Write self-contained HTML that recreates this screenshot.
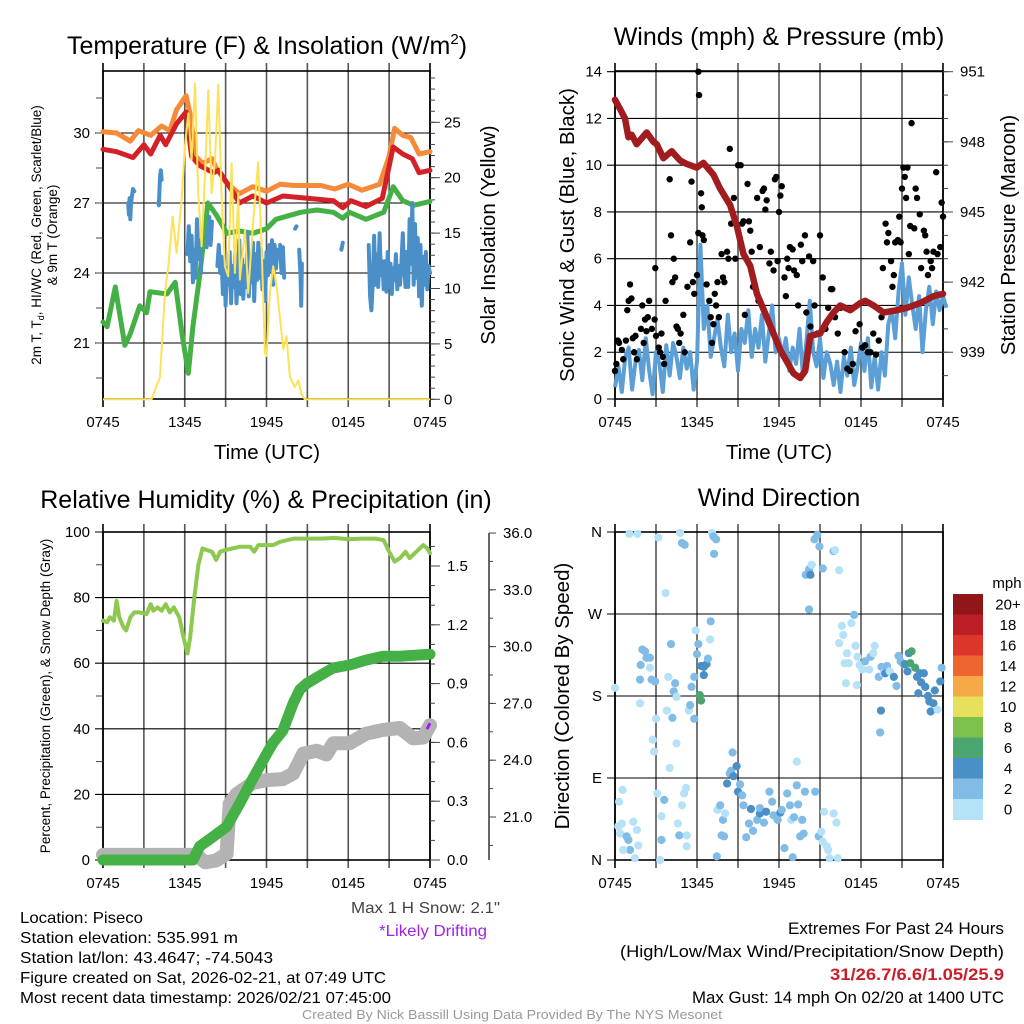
<!DOCTYPE html>
<html><head><meta charset="utf-8"><style>
html,body{margin:0;padding:0;background:#fff;}
svg{display:block;font-family:"Liberation Sans",Arial,sans-serif;}
</style></head><body>
<svg id="chart" width="1024" height="1024" viewBox="0 0 1024 1024" xmlns="http://www.w3.org/2000/svg">
<rect x="0" y="0" width="1024" height="1024" fill="#fff"/>
<!-- titles -->
<text x="267" y="54" font-size="25" text-anchor="middle">Temperature (F) &amp; Insolation (W/m<tspan dy="-10" font-size="15">2</tspan><tspan dy="10">)</tspan></text>
<text x="779" y="45" font-size="25" text-anchor="middle">Winds (mph) &amp; Pressure (mb)</text>
<text x="266" y="508" font-size="25" text-anchor="middle">Relative Humidity (%) &amp; Precipitation (in)</text>
<text x="779" y="506" font-size="25" text-anchor="middle">Wind Direction</text>
<!-- axis titles -->
<text transform="translate(41,235) rotate(-90)" font-size="13.5" text-anchor="middle">2m T, T<tspan font-size="9" dy="3">d</tspan><tspan dy="-3">, HI/WC (Red, Green, Scarlet/Blue)</tspan></text>
<text transform="translate(57,235) rotate(-90)" font-size="13.5" text-anchor="middle">&amp; 9m T (Orange)</text>
<text transform="translate(495,235) rotate(-90)" font-size="20.5" text-anchor="middle">Solar Insolation (Yellow)</text>
<text x="267" y="459" font-size="20.5" text-anchor="middle">Time (UTC)</text>
<text transform="translate(574,235) rotate(-90)" font-size="20.5" text-anchor="middle">Sonic Wind &amp; Gust (Blue, Black)</text>
<text transform="translate(1015,235) rotate(-90)" font-size="20.5" text-anchor="middle">Station Pressure (Maroon)</text>
<text x="779" y="459" font-size="20.5" text-anchor="middle">Time (UTC)</text>
<text transform="translate(50,696) rotate(-90)" font-size="13.5" text-anchor="middle">Percent, Precipitation (Green), &amp; Snow Depth (Gray)</text>
<text transform="translate(569,696) rotate(-90)" font-size="20.5" text-anchor="middle">Direction (Colored By Speed)</text>
<!-- footer text -->
<text x="500" y="913" font-size="16" fill="#444" text-anchor="end" textLength="149" lengthAdjust="spacingAndGlyphs">Max 1 H Snow: 2.1"</text>
<text x="487" y="936" font-size="16" fill="#a020f0" text-anchor="end" textLength="108" lengthAdjust="spacingAndGlyphs">*Likely Drifting</text>
<text x="20" y="923" font-size="16" textLength="123" lengthAdjust="spacingAndGlyphs">Location: Piseco</text>
<text x="20" y="943" font-size="16" textLength="218" lengthAdjust="spacingAndGlyphs">Station elevation: 535.991 m</text>
<text x="20" y="963" font-size="16" textLength="253" lengthAdjust="spacingAndGlyphs">Station lat/lon: 43.4647; -74.5043</text>
<text x="20" y="983" font-size="16" textLength="366" lengthAdjust="spacingAndGlyphs">Figure created on Sat, 2026-02-21, at 07:49 UTC</text>
<text x="20" y="1003" font-size="16" textLength="371" lengthAdjust="spacingAndGlyphs">Most recent data timestamp: 2026/02/21 07:45:00</text>
<text x="1004" y="934" font-size="17" text-anchor="end" textLength="216" lengthAdjust="spacingAndGlyphs">Extremes For Past 24 Hours</text>
<text x="1004" y="957" font-size="17" text-anchor="end" textLength="384" lengthAdjust="spacingAndGlyphs">(High/Low/Max Wind/Precipitation/Snow Depth)</text>
<text x="1004" y="980" font-size="17" font-weight="bold" fill="#c8202a" text-anchor="end" textLength="174" lengthAdjust="spacingAndGlyphs">31/26.7/6.6/1.05/25.9</text>
<text x="1004" y="1003" font-size="17" text-anchor="end" textLength="312" lengthAdjust="spacingAndGlyphs">Max Gust: 14 mph On 02/20 at 1400 UTC</text>
<text x="512" y="1019" font-size="13" fill="#999" text-anchor="middle" textLength="420" lengthAdjust="spacingAndGlyphs">Created By Nick Bassill Using Data Provided By The NYS Mesonet</text>
</svg>
<script>
// ---------- DATA ----------
const xTickLabels=["0745","1345","1945","0145","0745"];
const xTickHours=[0,6,12,18,24];
const tempTicks=[21,24,27,30];
const solarTicks=[0,5,10,15,20,25];
const windTicks=[0,2,4,6,8,10,12,14];
const pressTicks=[939,942,945,948,951];
const rhTicks=[0,20,40,60,80,100];
const precipTicks=["0.0","0.3","0.6","0.9","1.2","1.5"];
const snowTicks=["21.0","24.0","27.0","30.0","33.0","36.0"];
const dirLabels=["N","E","S","W","N"];
const dirDegrees=[0,90,180,270,360];
const speedBins=["0","2","4","6","8","10","12","14","16","18","20+"];
const speedColors=["#b5e2f7","#80bce6","#4a8fc6","#4aa56f","#7dc14b","#e6e05a","#f6aa47","#ef6530","#dc3529","#bb1e25","#901619"];

const temp9m=[[0,30.05],[1,30],[2,29.65],[2.6,30.1],[3.5,29.9],[4.3,30.3],[4.9,30.1],[5.4,31],[6.1,31.6],[6.4,30.8],[6.8,29],[7.3,28.7],[8,28.9],[8.3,28.5],[9,27.9],[10,27.4],[11,27.7],[12,27.5],[13,27.8],[14,27.75],[16,27.75],[17,27.6],[18,27.8],[19,27.55],[20.3,27.8],[21,29],[21.4,30.2],[22,29.9],[22.6,29.8],[23.2,29.1],[24,29.2]];
const temp2m=[[0,29.3],[1,29.2],[2.2,28.95],[3,29.5],[3.5,29.1],[4.2,29.9],[4.6,29.5],[5.4,30.4],[6.1,30.9],[6.5,29],[7.1,28.6],[8.1,28.3],[8.5,28.4],[9.5,27.5],[10,27.0],[11,27.3],[12,27.0],[13.2,27.3],[15,27.2],[16.9,27.1],[17.6,26.8],[18.2,27.1],[19.3,26.85],[20.5,27.2],[21.3,29.4],[22,29.1],[22.7,28.9],[23.2,28.3],[24,28.4]];
const dewpoint=[[0,21.9],[0.3,21.7],[0.9,23.4],[1.6,20.9],[2,21.4],[2.7,22.6],[3.2,22.3],[3.45,23.2],[4.7,23.1],[5.3,23.6],[5.8,21.4],[6.26,19.7],[6.6,21.7],[7.1,23.9],[7.7,27],[8.3,26.5],[9.1,25.7],[10,25.8],[11,25.7],[12,25.9],[12.7,26.3],[14.5,26.6],[15.7,26.7],[16.9,26.6],[17.6,26.35],[18.1,26.6],[19.3,26.3],[20.6,26.6],[21.3,27.7],[22,27.1],[22.8,26.9],[24,27.07]];
const windChill=[[1.85,27.0],[1.9,26.5],[1.95,27.2],[2.0,26.3],[2.05,26.9],[2.1,27.2],[2.2,27.6],[2.3,27.5],null,
[4.05,27.0],[4.1,26.9],[4.15,27.6],[4.2,28.2],[4.25,28.4],[4.3,28.0],null,
[6.2,24.8],[6.3,26.0],[6.4,24.5],[6.5,25.6],[6.6,23.6],[6.7,25.0],[6.8,23.8],[6.9,26.3],[7.0,24.6],[7.1,25.4],[7.2,24.0],null,
[7.6,25.1],[7.8,26.4],[7.9,25.2],[8.0,26.2],null,
[8.4,24.3],[8.5,25.2],[8.6,24.0],[8.7,24.7],[8.8,23.1],[8.9,24.5],[9.0,22.6],[9.1,24.2],[9.2,23.5],[9.3,24.9],[9.4,22.7],[9.5,24.3],[9.6,23.4],[9.7,24.8],[9.8,22.7],[9.9,24.0],[10.0,25.4],[10.1,23.1],[10.2,24.6],[10.3,22.9],[10.4,24.3],[10.5,23.4],[10.6,25.7],[10.7,23.0],[10.8,24.4],[10.9,23.6],[11.0,25.3],[11.1,22.8],[11.2,24.8],[11.3,23.7],[11.4,25.3],[11.5,23.8],[11.6,25.0],[11.7,23.3],[11.8,24.5],[11.9,22.8],[12.0,24.9],[12.1,23.9],[12.2,25.2],[12.3,24.1],[12.4,25.4],[12.5,23.5],[12.6,25.2],[12.7,24.2],[12.8,25.0],null,
[13.0,25.2],[13.1,24.0],[13.2,25.1],[13.3,23.8],null,[14.1,25.9],[14.2,26.0],null,
[14.4,25.0],[14.5,23.8],[14.55,22.6],[14.6,24.4],null,[17.5,25.0],[17.6,25.3],null,
[19.5,25.2],[19.6,23.0],[19.7,22.4],[19.8,23.6],[19.9,25.6],[20.0,23.5],[20.1,24.8],[20.2,23.4],[20.3,25.7],[20.4,23.9],[20.5,24.5],[20.6,23.3],[20.7,24.5],[20.8,23.2],[20.9,24.9],[21.0,23.4],[21.1,24.4],[21.2,23.1],[21.3,24.2],[21.4,23.7],[21.5,24.8],[21.6,23.3],[21.7,24.3],[21.8,23.5],[21.9,24.4],[22.0,25.7],[22.1,24.2],[22.2,23.4],[22.3,24.9],[22.4,23.4],[22.5,26.3],[22.6,24.4],[22.7,27.0],[22.8,23.5],[22.9,26.1],[23.0,23.8],[23.1,25.5],[23.2,23.0],[23.3,25.2],[23.4,22.6],[23.5,24.7],[23.6,23.5],[23.7,24.9],[23.8,23.3],[23.9,24.3],[24.0,24.0]];
const insolation=[[0,0],[3.57,0],[4.18,2.0],[4.55,9.6],[4.79,12],[5.11,16.5],[5.40,13.2],[5.77,18],[6.01,22.8],[6.26,25.8],[6.50,21.6],[6.75,28.5],[6.99,18.6],[7.24,13.8],[7.48,20.1],[7.73,27.9],[7.97,18.6],[8.22,21.6],[8.46,28.4],[8.70,18.6],[8.95,12],[9.19,11.1],[9.44,21.3],[9.68,11.4],[9.93,18.6],[10.05,10.8],[10.42,15.3],[10.66,9.6],[11.03,16.2],[11.39,21.4],[11.64,13.8],[11.88,4.2],[12.0,3.9],[12.25,9.6],[12.49,12],[12.74,10.2],[13.23,4.5],[13.47,5.7],[13.72,2.0],[14.08,1.1],[14.33,1.7],[14.57,0.5],[14.82,0],[24,0]];

const pressure=[[0,949.8],[0.37,949.4],[0.73,949.0],[0.98,948.2],[1.22,948.3],[1.59,947.9],[2.32,948.4],[2.81,948.0],[3.05,947.9],[3.54,947.3],[4.15,947.6],[4.76,947.2],[5.25,947.05],[5.98,946.9],[6.47,947.1],[7.2,946.6],[7.69,946.0],[8.42,945.3],[8.91,944.4],[9.4,943.2],[9.89,942.7],[10.38,941.5],[11.11,940.5],[12.09,939.1],[13.06,938.1],[13.55,937.9],[13.92,938.2],[14.28,939.7],[15.01,939.8],[15.5,940.3],[15.99,940.7],[16.48,941.0],[17.21,940.8],[17.94,941.1],[18.31,941.2],[18.92,941.0],[19.65,940.7],[20.63,940.8],[21.36,940.9],[22.34,941.1],[23.31,941.4],[24,941.5]];
const sonicWind=[0.5,1.4,0.3,1.8,2.2,0.4,1.6,2.1,0.8,2.6,1.2,0.2,2.0,1.5,0.3,2.3,1.0,2.4,1.8,0.9,2.2,1.3,2.0,0.4,1.6,6.6,3.0,4.0,1.8,2.6,3.4,2.2,1.4,3.6,2.0,2.8,1.2,3.0,2.4,3.8,1.8,3.0,2.2,3.6,1.6,2.8,4.0,2.0,2.6,1.8,2.6,1.2,2.2,1.5,3.0,1.0,2.4,4.2,2.0,1.4,2.6,0.9,2.0,1.5,0.6,1.6,0.3,1.8,1.0,2.2,0.6,1.4,2.4,1.2,2.6,0.5,1.8,0.4,2.0,1.0,3.2,3.8,2.6,4.6,5.8,3.6,5.2,4.0,3.0,4.4,2.0,3.8,4.8,3.2,4.6,3.8,4.4,3.9];
const windStepHours=0.25;
const gustHours=[0,0.1,0.2,0.3,0.5,0.6,0.8,0.9,1.0,1.1,1.2,1.3,1.4,1.5,1.6,1.9,2.0,2.1,2.2,2.3,2.4,2.5,2.7,2.9,2.95,3.0,3.2,3.3,3.4,3.5,3.6,3.7,4.0,4.1,4.2,4.3,4.4,4.5,4.6,4.7,4.8,5.0,5.1,5.3,5.5,5.6,5.7,5.8,6.0,6.1,6.1,6.15,6.3,6.35,6.4,6.5,6.7,6.9,7.0,7.1,7.2,7.3,7.4,7.5,7.6,7.8,7.9,8.0,8.2,8.3,8.4,8.5,8.7,8.8,9.0,9.2,9.3,9.4,9.5,9.7,9.8,9.9,10.0,10.1,10.2,10.4,10.5,10.6,10.8,10.9,11.0,11.1,11.3,11.4,11.6,11.7,11.8,11.9,12.0,12.1,12.2,12.4,12.5,12.6,12.7,12.8,13.0,13.1,13.3,13.4,13.6,13.7,13.9,14.0,14.2,14.3,14.5,14.6,14.8,15.0,15.2,15.4,15.6,15.8,15.9,16.1,16.3,16.5,16.8,17.0,17.2,17.4,17.6,17.9,18.1,18.3,18.5,18.7,18.9,19.1,19.3,19.5,19.6,19.8,19.9,20.0,20.2,20.3,20.4,20.5,20.7,20.8,20.9,21.0,21.1,21.2,21.3,21.4,21.5,21.6,21.7,21.9,22.0,22.1,22.3,22.4,22.6,22.7,22.8,22.9,23.1,23.2,23.3,23.5,23.6,23.8,23.9,24.0];
const gustValues=[1.2,1.5,2.5,2.4,2.1,1.7,2.5,3.8,4.2,4.9,4.3,2.6,2.0,2.7,1.7,3.0,4.0,2.4,3.4,2.9,3.5,4.2,3.0,3.4,5.6,2.7,2.2,2.0,2.8,1.8,1.5,4.2,9.4,7.0,5.0,6.0,5.2,3.1,3.0,2.4,2.8,3.6,2.0,4.8,6.7,9.3,5.0,4.5,5.3,7.1,14.0,13.0,8.8,8.2,7.0,6.8,4.9,4.2,3.5,2.4,3.2,4.5,4.0,5.0,3.5,6.2,5.2,5.0,6.3,6.0,10.7,7.5,8.6,6.0,10.0,10.0,7.5,7.6,3.6,9.2,7.6,7.2,6.3,4.8,4.8,8.6,4.2,6.5,8.9,9.0,8.1,8.5,5.8,6.3,5.5,9.4,9.5,5.9,8.0,8.7,9.1,5.2,4.4,6.0,5.6,6.5,6.4,5.5,5.3,4.0,6.6,5.9,7.0,3.7,6.1,3.1,5.9,4.0,2.8,7.0,5.2,3.0,3.9,4.7,4.7,3.5,2.8,3.9,2.0,1.3,1.2,1.5,2.9,3.2,2.2,2.3,2.0,2.0,2.8,1.9,2.5,3.5,5.6,7.5,6.7,7.1,5.9,4.8,5.3,6.7,6.8,7.8,6.7,9.0,9.9,9.5,8.6,9.9,6.2,7.4,11.8,7.3,9.0,8.6,7.9,5.6,7.2,7.0,6.3,5.3,5.9,5.6,6.3,9.7,6.2,6.5,8.4,7.8];

const rh=[[0,73],[0.3,72.5],[0.5,74],[0.8,73],[1.0,79],[1.2,74],[1.5,71],[1.7,70],[2,74],[2.3,75.5],[2.7,75.5],[3.2,75],[3.5,78],[3.7,76],[4.0,77],[4.3,76],[4.6,78],[4.9,75.5],[5.2,77],[5.6,74],[5.9,68],[6.2,63],[6.4,68],[6.7,80],[7.0,90],[7.3,95],[7.6,94.5],[8.0,94],[8.3,91.5],[8.6,94],[9.0,94.5],[9.5,95],[10,95.5],[10.8,95.5],[11.1,94],[11.4,96],[12,96],[12.5,96],[13,97],[14,98],[15,98],[16,98],[17,98.2],[18,97.8],[19,98],[20,98],[20.6,97.5],[21,94],[21.4,91],[21.8,92],[22.2,94],[22.5,92],[23,94],[23.5,96],[23.8,95],[24,93.5]];
const precip=[[0,0],[6.6,0],[7.1,0.07],[8.1,0.12],[9.07,0.17],[10.05,0.29],[11.03,0.42],[12,0.54],[12.5,0.6],[13.2,0.66],[13.96,0.8],[14.45,0.87],[14.94,0.9],[15.9,0.94],[16.9,0.98],[18.1,0.995],[19.3,1.02],[20.56,1.04],[21.8,1.04],[24,1.05]];
const snowDepth=[[0,19.0],[6.5,19.0],[7.0,18.9],[7.5,18.6],[8.3,18.7],[9.07,19.06],[9.3,21.7],[9.8,22.2],[11,22.8],[12,22.95],[13.2,23.0],[13.96,23.3],[14.7,24.35],[15.7,24.5],[16.4,24.3],[16.9,24.9],[18.1,24.9],[19.3,25.4],[20.56,25.6],[21.8,25.7],[22.76,25.15],[23.5,25.2],[24,25.85]];

const dirHours=[0,0.24,0.37,0.5,0.3,0.56,0.85,0.98,1.1,0.6,1.34,1.46,1.6,1.7,1.05,1.64,1.83,1.88,1.83,2.0,2.2,2.3,2.56,2.56,2.68,2.93,3.0,2.76,2.86,3.1,3.3,3.4,3.17,3.4,3.6,3.7,3.8,3.9,4.0,4.1,4.2,4.3,4.4,4.5,4.5,4.6,4.7,4.76,4.9,5.1,4.9,5.06,5.25,5.2,5.25,5.4,5.5,5.6,5.8,5.8,5.9,6.0,6.1,6.2,6.3,6.3,6.5,6.5,6.7,6.8,6.96,7.0,7.1,7.2,7.4,7.25,7.45,7.5,7.7,7.8,7.9,7.98,8.06,8.2,8.4,8.5,8.6,8.67,8.9,9.0,9.15,9.3,9.4,9.6,9.8,9.95,10.1,10.4,10.6,10.6,10.9,11.05,11.3,11.5,11.6,11.9,12.1,12.2,12.4,12.6,12.8,12.9,13.0,13.1,13.3,13.3,13.4,13.55,13.7,13.8,13.9,13.96,14.2,14.3,14.2,14.4,14.65,14.6,14.8,14.96,14.9,15.1,15.2,15.2,15.3,15.5,15.6,15.7,15.99,16.1,16.0,16.2,16.3,16.4,16.4,16.6,16.7,16.8,16.9,16.97,17.1,17.3,17.5,17.6,17.7,17.75,17.9,18.1,18.3,18.6,18.7,18.9,19.0,19.3,19.5,19.65,19.77,19.46,19.4,19.9,20.1,20.4,20.6,20.75,20.9,21.1,21.2,21.4,21.5,21.7,21.6,21.97,22.1,22.3,22.4,22.6,22.2,22.7,22.9,23.0,23.1,23.3,23.4,23.6,23.8,23.9];
const dirDeg=[189,37,29,40,64,77,26,22,11,11,42,2,33,16,358,358,172,214,198,231,229,222,222,211,198,196,155,132,119,73,0,22,354,48,66,293,164,201,101,237,156,185,194,179,128,40,27,359,348,346,60,73,15,79,27,164,170,190,155,201,252,226,237,181,175,213,203,212,215,221,242,262,359,355,352,336,4,55,60,27,44,26,51,84,95,98,118,92,103,75,83,71,60,25,40,56,32,44,51,57,41,53,75,64,49,44,52,55,13,73,60,44,3,47,82,108,61,26,44,29,75,313,319,313,275,324,75,352,357,344,26,31,320,20,53,15,11,2,339,340,51,41,2,318,238,257,247,216,194,227,216,260,269,235,192,223,214,209,218,209,223,227,235,201,212,205,205,164,140,213,207,201,191,224,218,215,215,207,227,229,216,211,201,205,195,205,183,190,180,174,163,172,186,165,196,211];
const dirSpeed=[1,1,1,1,1,1,3,3,3,1,1,1,1,1,1,1,1,3,3,3,3,3,3,1,3,3,1,1,1,1,1,3,1,1,3,1,1,1,1,3,3,3,3,1,1,1,3,1,3,3,1,1,1,1,1,1,3,3,3,3,1,3,3,7,7,5,5,5,5,3,1,3,1,3,3,3,3,1,3,3,3,3,1,5,3,3,3,5,5,5,3,3,3,3,3,5,3,3,5,3,3,5,3,3,3,3,5,3,3,3,3,1,3,3,3,1,3,3,3,3,3,3,3,5,3,1,3,3,3,3,3,1,3,1,1,1,1,1,3,1,1,1,1,1,1,1,1,1,1,1,1,1,3,1,1,1,1,1,3,1,3,1,1,3,3,1,5,5,3,3,1,5,3,3,3,3,5,5,5,7,7,7,5,5,5,5,5,5,5,5,5,5,5,1,5,3,5,5,5];

// ---------- HELPERS ----------
const NS='http://www.w3.org/2000/svg';
const svg=document.getElementById('chart');
function mk(tag,attrs,parent){const e=document.createElementNS(NS,tag);for(const k in attrs)e.setAttribute(k,attrs[k]);(parent||svg).appendChild(e);return e;}
function linearScale(d0,d1,r0,r1){return v=>r0+(v-d0)*(r1-r0)/(d1-d0);}
function pathFrom(pts,fx,fy){let d='',pen=false;for(const p of pts){if(p===null){pen=false;continue;}d+=(pen?'L':'M')+fx(p[0]).toFixed(1)+' '+fy(p[1]).toFixed(1);pen=true;}return d;}
function colorFor(s){let i=Math.floor(s/2);if(i>10)i=10;return speedColors[i];}

const panels={
 temp:{x0:103,x1:430,y0:71,y1:399},
 wind:{x0:615,x1:943,y0:71,y1:399},
 rh:{x0:103,x1:430,y0:532,y1:860},
 dir:{x0:615,x1:943,y0:532,y1:860}
};
function timeScale(p){return linearScale(0,24,p.x0,p.x1);}

function frame(key,hTicks,yFn){
 const p=panels[key];const tx=timeScale(p);
 const g=mk('g',{});
 
 
 for(let h=0;h<=24;h+=3){
  const x=tx(h);
  const vl=mk('line',{x1:x,x2:x,y1:p.y0-8,y2:p.y1+8,stroke:(h===0||h===24)?'#000':'#555','stroke-width':1.6},g);
  
  
 }
 for(const v of hTicks){
  const y=yFn(v);
  const hl=mk('line',{x1:p.x0-8,x2:p.x1,y1:y,y2:y,stroke:'#000','stroke-width':1.1},g);
  
  
 }
 const bx=mk('rect',{x:p.x0,y:p.y0,width:p.x1-p.x0,height:p.y1-p.y0,fill:'none',stroke:'#000','stroke-width':1.6},g);
 
 
 xTickHours.forEach((h,i)=>{
  const t=mk('text',{x:tx(h),y:p.y1+28,'font-size':15,'text-anchor':'middle'});
  t.textContent=xTickLabels[i];
  
  
 });
}
function leftLabels(p,vals,labels,fy){
 vals.forEach((v,i)=>{
  const t=mk('text',{x:p.x0-13,y:fy(v)+5,'font-size':15,'text-anchor':'end'});
  t.textContent=labels[i];
  
  
 });
}
function minorTicks(x,dir,from,to,step,fy,len){
 for(let v=from;v<=to+1e-9;v+=step){const y=fy(v);const l=mk('line',{x1:x,x2:x+dir*len,y1:y,y2:y,stroke:'#444','stroke-width':1});
  
  }
}

// ---------- PANEL 1: TEMPERATURE ----------
(function(){
 const p=panels.temp,tx=timeScale(p);
 const yT=linearScale(30,21,133,343);
 const yS=linearScale(0,25,399.3,122.3);
 frame('temp',tempTicks,yT);
 leftLabels(p,tempTicks,tempTicks.map(String),yT);
 minorTicks(p.x0,-1,19.5,31.5,1.5,yT,7);
 minorTicks(p.x1,1,0,29,1,yS,5);
 minorTicks(p.x1,1,0,25,5,yS,10);
 solarTicks.forEach(v=>{const t=mk('text',{x:p.x1+14,y:yS(v)+5,'font-size':15});t.textContent=v;
  
  });
 const series=[[temp9m,'#f58b3a',5,'temp-9m-line'],[temp2m,'#d42027',5,'temp-2m-line'],[dewpoint,'#45b045',5,'dewpoint-line'],[windChill,'#4a8fc8',4,'windchill-line']];
 for(const s of series){const e=mk('path',{d:pathFrom(s[0],tx,yT),fill:'none',stroke:s[1],'stroke-width':s[2],'stroke-linejoin':'round','stroke-linecap':'round'});
  
  }
 const ins=mk('path',{d:pathFrom(insolation,tx,yS),fill:'none',stroke:'#fde257','stroke-width':2,'stroke-linejoin':'round'});
 
 
})();

// ---------- PANEL 2: WIND ----------
(function(){
 const p=panels.wind,tx=timeScale(p);
 const yW=linearScale(0,14,399,71.7);
 const yP=linearScale(937,951,399,71.7);
 frame('wind',windTicks,yW);
 leftLabels(p,windTicks,windTicks.map(String),yW);
 minorTicks(p.x1,1,938,951,1,yP,5);
 minorTicks(p.x1,1,939,951,3,yP,10);
 pressTicks.forEach(v=>{const t=mk('text',{x:p.x1+17,y:yP(v)+5,'font-size':15});t.textContent=v;
  
  });
 const wpts=sonicWind.map((v,i)=>[i*windStepHours,v]);
 const w=mk('path',{d:pathFrom(wpts,tx,yW),fill:'none',stroke:'#5b9fd6','stroke-width':4,'stroke-linejoin':'round'});
 
 
 gustHours.forEach((h,i)=>{const c=mk('circle',{cx:tx(h),cy:yW(gustValues[i]),r:3.2,fill:'#000'});
  
  });
 const pr=mk('path',{d:pathFrom(pressure,tx,yP),fill:'none',stroke:'#a11c1f','stroke-width':6.5,'stroke-linejoin':'round','stroke-linecap':'round'});
 
 
})();

// ---------- PANEL 3: RH / PRECIP / SNOW ----------
(function(){
 const p=panels.rh,tx=timeScale(p);
 const yR=linearScale(0,100,860,532);
 const yPr=linearScale(0,1.5,860,566);
 const ySn=linearScale(21,36,817,533);
 frame('rh',rhTicks,yR);
 leftLabels(p,rhTicks,rhTicks.map(String),yR);
 minorTicks(p.x0,-1,10,90,20,yR,7);
 minorTicks(p.x1,1,0,1.6,0.1,yPr,5);
 minorTicks(p.x1,1,0,1.5,0.3,yPr,10);
 precipTicks.forEach(v=>{const t=mk('text',{x:p.x1+17,y:yPr(parseFloat(v))+5,'font-size':15});t.textContent=v;
  
  });
 const ax=mk('line',{x1:489,x2:489,y1:533,y2:860,stroke:'#000','stroke-width':1.2});
 
 
 minorTicks(489,1,19.5,36,1.5,ySn,4);
 minorTicks(489,1,21,36,3,ySn,7);
 snowTicks.forEach(v=>{const t=mk('text',{x:503,y:ySn(parseFloat(v))+5,'font-size':15});t.textContent=v;
  
  });
 const sn=mk('path',{d:pathFrom(snowDepth,tx,ySn),fill:'none',stroke:'#b3b3b3','stroke-width':14,'stroke-linejoin':'round','stroke-linecap':'round'});
 
 
 const pc=mk('path',{d:pathFrom(precip,tx,yPr),fill:'none',stroke:'#45b045','stroke-width':11,'stroke-linejoin':'round','stroke-linecap':'round'});
 
 
 const r=mk('path',{d:pathFrom(rh,tx,yR),fill:'none',stroke:'#8dc84f','stroke-width':4,'stroke-linejoin':'round','stroke-linecap':'round'});
 
 
 const last=snowDepth[snowDepth.length-1];
 const dm=mk('line',{x1:tx(last[0])-3,y1:ySn(last[1])+4,x2:tx(last[0]),y2:ySn(last[1])-2,stroke:'#a020f0','stroke-width':3});
 
 
})();

// ---------- PANEL 4: WIND DIRECTION ----------
(function(){
 const p=panels.dir,tx=timeScale(p);
 const yD=linearScale(0,360,860,532);
 frame('dir',dirDegrees,yD);
 leftLabels(p,dirDegrees,dirLabels,yD);
 dirHours.forEach((h,i)=>{const c=mk('circle',{cx:tx(h),cy:yD(dirDeg[i]),r:4.1,fill:colorFor(dirSpeed[i])});
  
  });
 const cb=mk('g',{});
 
 
 const top=594,h=20.5;
 const u=mk('text',{x:1007,y:588,'font-size':15,'text-anchor':'middle'},cb);u.textContent='mph';
 
 
 for(let k=0;k<speedBins.length;k++){
  const idx=speedBins.length-1-k;
  const sw=mk('rect',{x:953,y:top+k*h,width:30,height:h+0.5,fill:speedColors[idx]},cb);
  
  
  const t=mk('text',{x:1008,y:top+k*h+h/2+5,'font-size':15,'text-anchor':'middle'},cb);t.textContent=speedBins[idx];
  
  
 }
})();
</script>
</body></html>
